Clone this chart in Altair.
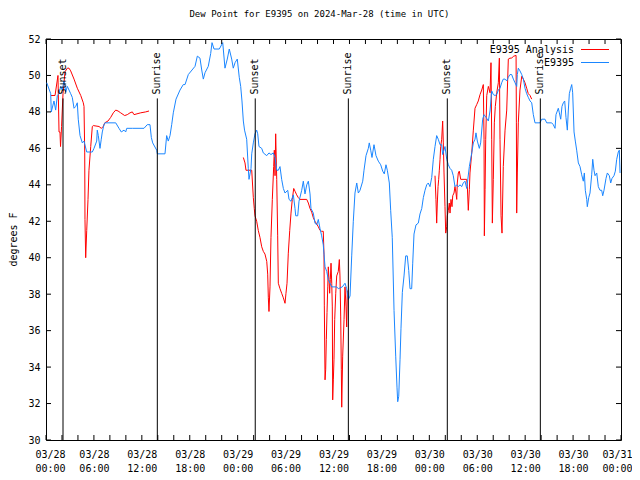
import altair as alt
import pandas as pd

FONT = "DejaVu Sans Mono"
TITLE = "Dew Point for E9395 on 2024-Mar-28 (time in UTC)"

# ---- observed dew point (E9395), hours since 2024-03-28 00:00 UTC ----
blue_h = [0.09, 0.59, 0.66, 1.00, 1.21, 1.42, 1.63, 1.84, 2.04, 2.25, 2.47, 2.67, 2.88, 3.09, 3.29, 3.51,
          3.72, 3.92, 4.04, 4.26, 4.55, 4.76, 5.10, 5.80, 6.01, 6.35, 6.42, 6.55, 6.76, 6.92, 7.05, 7.26,
          7.39, 8.73, 9.14, 9.43, 9.77, 9.98, 10.11, 10.81, 12.27, 12.68, 13.02, 13.19, 13.36, 13.86, 13.94,
          14.90, 15.11, 15.31, 15.53, 15.74, 15.94, 16.28, 16.78, 17.19, 17.41, 17.82, 18.66, 18.95, 19.28,
          19.50, 19.70, 19.91, 20.32, 20.62, 20.79, 21.04, 21.70, 22.13, 22.41, 22.70, 22.95, 23.25, 23.45,
          23.67, 23.95, 24.20, 24.38, 24.54, 24.71, 24.86, 25.13, 25.33, 25.42, 25.67, 25.76, 25.96, 26.17,
          26.38, 26.51, 26.67, 27.01, 27.21, 27.64, 27.92, 28.17, 28.46, 28.68, 28.89, 29.09, 29.30, 29.51,
          29.72, 29.93, 30.27, 30.43, 30.68, 30.97, 31.18, 31.27, 31.52, 31.68, 32.02, 32.22, 32.43, 32.65,
          32.85, 33.06, 33.18, 33.47, 33.68, 33.90, 34.10, 34.31, 34.52, 34.72, 34.94, 35.15, 35.35, 35.56,
          35.78, 36.40, 36.60, 37.10, 37.44, 37.65, 37.85, 38.07, 38.28, 38.48, 38.69, 38.91, 39.11, 39.32,
          39.66, 39.82, 40.07, 40.36, 40.48, 40.66, 40.82, 41.07, 41.32, 41.61, 41.91, 42.16, 42.36, 42.57,
          42.74, 42.99, 43.16, 43.36, 43.58, 43.79, 43.95, 44.04, 44.17, 44.33, 44.45, 44.62, 44.83, 45.04,
          45.24, 45.42, 45.58, 45.79, 45.92, 46.08, 46.33, 46.62, 46.83, 47.05, 47.25, 47.46, 47.67, 47.87,
          48.08, 48.30, 48.50, 48.71, 48.92, 49.12, 49.34, 49.55, 49.67, 49.96, 50.18, 50.38, 50.59, 50.80,
          51.00, 51.21, 51.43, 51.63, 51.84, 52.05, 52.25, 52.47, 52.68, 53.01, 53.31, 53.51, 53.72, 53.84,
          54.01, 54.26, 54.43, 54.68, 54.85, 55.10, 55.39, 55.60, 55.81, 56.01, 56.22, 56.44, 56.64, 56.85,
          57.06, 57.26, 57.48, 57.69, 57.89, 58.10, 58.31, 58.52, 58.73, 58.94, 59.02, 59.14, 59.35, 59.57,
          59.77, 59.98, 60.19, 60.39, 60.61, 60.82, 61.02, 61.23, 61.86, 62.07, 62.48, 62.70, 63.32, 63.52,
          63.74, 63.86, 64.15, 64.28, 64.45, 64.61, 64.78, 64.95, 65.11, 65.28, 65.40, 65.53, 65.70, 65.83,
          65.95, 66.12, 66.28, 66.45, 66.66, 66.87, 67.08, 67.28, 67.41, 67.53, 67.71, 67.78, 67.96, 68.12,
          68.33, 68.46, 68.62, 68.75, 68.96, 69.16, 69.37, 69.58, 69.71, 69.87, 70.12, 70.29, 70.54, 70.71,
          70.87, 71.12, 71.29, 71.46, 71.66, 71.79, 71.88]
blue_v = [49.6, 49.0, 48.0, 48.6, 48.1, 48.9, 49.0, 49.4, 49.2, 49.7, 49.1, 49.4, 49.2, 49.0, 48.8, 48.2,
          48.3, 48.5, 47.6, 46.7, 46.3, 46.4, 45.8, 45.8, 46.0, 46.4, 47.0, 46.7, 46.0, 46.5, 46.9, 47.3,
          47.4, 47.4, 47.1, 46.9, 47.0, 46.9, 47.1, 47.1, 47.1, 47.3, 47.3, 46.6, 46.3, 45.9, 45.7,
          45.7, 46.7, 46.4, 46.7, 47.3, 47.95, 48.7, 49.2, 49.5, 49.5, 50.05, 50.5, 51.06, 50.95,
          50.3, 49.8, 50.15, 50.5, 51.2, 51.8, 51.45, 51.45, 51.8, 50.4, 50.9, 51.45, 50.9, 50.4,
          50.7, 50.9, 49.9, 49.4, 48.6, 47.5, 47.0, 46.5, 44.9, 44.3, 44.9, 45.7, 46.3, 46.8,
          47.0, 46.8, 46.1, 46.0, 45.75, 45.6, 45.75, 45.66, 45.75, 45.5, 44.8, 44.8, 45.0, 44.3,
          43.8, 43.55, 43.7, 43.2, 43.1, 43.45, 42.7, 42.3, 42.3, 43.1, 43.7, 44.2, 43.5, 44.0,
          44.2, 43.5, 42.7, 42.45, 41.9, 41.8, 42.1, 41.6, 41.2, 40.7, 39.5, 39.25, 38.8, 38.6,
          38.4, 38.4, 38.3, 38.4, 38.6, 38.3, 37.7, 37.9, 40.1, 42.0, 43.55, 44.1, 43.55, 43.7,
          44.2, 44.8, 45.6, 46.0, 46.3, 45.9, 45.5, 46.2, 45.6, 45.3, 45.1, 44.75, 44.6, 45.1,
          44.8, 44.1, 42.6, 41.1, 37.1, 34.6, 32.9, 32.1, 32.4, 34.4, 36.1, 38.1, 39.0, 40.1,
          40.1, 39.3, 38.3, 38.3, 39.7, 41.3, 41.8, 41.9, 42.4, 42.7, 43.3, 43.7, 44.0, 44.1,
          43.9, 44.4, 45.4, 46.1, 46.7, 46.5, 46.2, 46.2, 45.66, 46.1, 45.4, 45.1, 44.9, 44.8,
          44.5, 43.9, 44.0, 43.9, 44.0, 43.9, 44.1, 44.2, 43.8, 45.0, 45.75, 46.3, 46.5, 46.85,
          46.4, 46.0, 46.3, 47.6, 47.85, 47.7, 47.5, 48.05, 49.15, 48.95, 48.9, 48.95, 49.2, 49.3,
          49.6, 49.8, 49.8, 49.7, 49.9, 50.05, 50.05, 49.8, 49.6, 49.4, 50.05, 50.4, 50.25, 50.05,
          49.8, 49.3, 49.0, 48.8, 48.6, 48.5, 47.85, 47.4, 47.4, 47.6, 47.6, 47.4, 47.4, 47.3,
          47.1, 47.85, 48.2, 47.95, 47.6, 48.3, 48.5, 48.6, 47.7, 47.0, 48.05, 49.0, 49.3, 49.5,
          49.05, 46.9, 46.4, 45.9, 45.2, 45.0, 44.55, 44.2, 44.65, 43.7, 43.2, 42.8, 43.3, 43.55,
          44.55, 45.4, 44.8, 44.5, 44.65, 43.9, 43.7, 43.7, 43.4, 43.7, 44.35, 44.65, 44.5, 44.1,
          44.35, 44.5, 44.75, 45.4, 45.8, 45.9, 44.65]

# ---- analysis dew point (E9395 Analysis), three separate segments ----
red1_h = [0.63, 1.13, 1.50, 1.63, 1.75, 1.82, 1.95, 2.13, 2.38, 2.67, 2.88, 3.09, 3.51, 3.92, 4.35, 4.67,
          4.76, 4.85, 4.88, 4.97, 5.10, 5.26, 5.38, 5.60, 5.80, 5.92, 6.64, 6.92, 7.18, 7.35, 7.76, 8.10,
          8.43, 8.73, 9.02, 9.35, 9.85, 10.18, 10.52, 10.81, 11.02, 11.86, 12.48, 12.90]
red1_v = [48.9, 48.9, 50.0, 46.9, 46.9, 46.1, 47.2, 49.0, 50.2, 50.4, 50.4, 50.25, 49.8, 49.3, 48.9, 48.5,
          48.3, 45.75, 42.1, 40.0, 41.5, 43.2, 44.8, 46.1, 47.2, 47.25, 47.2, 47.1, 47.2, 47.4, 47.5, 47.7,
          47.95, 48.1, 48.05, 47.95, 47.8, 47.85, 47.95, 48.0, 47.85, 47.95, 48.0, 48.05]
red2_h = [24.71, 24.92, 25.04, 25.76, 25.96, 26.08, 26.17, 26.38, 26.58, 26.80, 27.01, 27.21, 27.42, 27.64,
          27.76, 27.84, 27.92, 28.05, 28.17, 28.34, 28.51, 28.59, 28.68, 28.76, 28.89, 29.01, 29.09, 29.30,
          29.51, 29.72, 29.93, 30.05, 30.18, 30.34, 30.52, 30.68, 30.84, 31.02, 31.18, 31.39, 31.59, 31.81,
          32.65, 32.85, 33.06, 33.27, 33.47, 33.68, 34.10, 34.31, 34.52, 34.72, 34.81, 34.85, 34.94, 35.02,
          35.10, 35.19, 35.28, 35.35, 35.44, 35.52, 35.60, 35.69, 35.78, 35.85, 35.90, 35.98, 36.06, 36.15,
          36.28, 36.40, 36.60, 36.73, 36.81, 36.90, 36.98, 37.03, 37.15, 37.32, 37.44, 37.57, 37.65, 37.73]
red2_v = [45.5, 45.2, 44.8, 44.8, 43.3, 42.7, 42.3, 42.0, 41.5, 41.1, 40.6, 40.35, 40.2, 39.8,
          39.1, 37.8, 37.05, 38.4, 41.1, 43.2, 45.0, 45.9, 44.5, 46.8, 44.3, 41.2, 38.6, 38.3,
          38.05, 37.8, 37.5, 38.05, 38.6, 40.25, 41.5, 42.45, 43.2, 43.8, 43.65, 43.45, 43.3, 43.2,
          43.2, 43.0, 42.7, 42.5, 42.2, 42.0, 41.7, 41.5, 41.45, 41.45, 40.2, 37.4, 33.3, 33.85,
          35.5, 37.0, 38.4, 39.5, 38.8, 38.05, 38.8, 39.7, 38.6, 37.3, 32.2, 33.3, 34.4, 36.6,
          38.05, 39.0, 39.25, 39.9, 39.0, 36.8, 33.85, 31.8, 34.6, 36.6, 38.4, 37.3, 36.2, 38.2]
red3_h = [48.71, 48.83, 48.92, 49.00, 49.09, 49.17, 49.25, 49.34, 49.42, 49.55, 49.67, 49.75, 49.84, 49.96,
          50.05, 50.18, 50.25, 50.38, 50.50, 50.59, 50.71, 50.84, 50.93, 51.09, 51.21, 51.34, 51.43, 51.50,
          51.63, 51.75, 51.93, 52.68, 52.76, 52.88, 53.01, 53.09, 53.31, 53.51, 53.72, 53.93, 54.13, 54.35,
          54.56, 54.76, 54.85, 54.89, 54.98, 55.06, 55.19, 55.39, 55.60, 55.72, 55.81, 55.89, 56.01, 56.14,
          56.26, 56.44, 56.64, 56.77, 56.85, 56.98, 57.10, 57.26, 57.48, 57.69, 57.89, 58.10, 58.31, 58.52,
          58.86, 58.90, 58.94, 59.02, 59.14, 59.35, 59.57, 59.77, 59.98, 60.19, 60.39, 60.61, 60.82]
red3_v = [44.5, 43.2, 41.9, 43.0, 43.9, 44.3, 44.8, 45.4, 46.1, 46.5, 47.5, 46.3, 44.65, 42.8,
          41.35, 41.7, 42.3, 42.6, 43.0, 42.45, 43.2, 42.8, 43.4, 43.55, 43.9, 43.55, 43.2, 44.1,
          44.65, 44.75, 44.3, 44.3, 43.9, 42.6, 43.75, 44.65, 45.75, 47.0, 48.2, 48.4, 48.6, 48.95,
          49.2, 49.5, 46.5, 41.2, 43.75, 46.5, 48.9, 49.4, 49.05, 50.7, 46.5, 41.9, 44.3, 47.4,
          48.3, 49.05, 49.6, 50.95, 46.5, 42.3, 41.35, 45.0, 47.0, 48.1, 50.9, 50.95, 50.95, 51.05,
          51.1, 47.4, 42.45, 44.65, 47.4, 49.2, 49.95, 49.8, 49.6, 49.3, 49.0, 48.9, 48.7]

# ---- sun events ----
sun_names = ["Sunset", "Sunrise", "Sunset", "Sunrise", "Sunset", "Sunrise"]
sun_hours = [2.13, 13.94, 26.20, 37.86, 50.25, 61.90]

# ---- axes ----
x_ticks = list(range(0, 73, 2))
x_label_hours = list(range(0, 73, 6))
x_label_dates = ["03/28", "03/28", "03/28", "03/28", "03/29", "03/29", "03/29", "03/29",
                 "03/30", "03/30", "03/30", "03/30", "03/31"]
x_label_times = ["00:00", "06:00", "12:00", "18:00"] * 3 + ["00:00"]
y_ticks = list(range(30, 53, 2))

series_names = ["E9395 Analysis", "E9395"]
series_colors = ["#ff0000", "#1a86ff"]

W, H = 575, 401
xs = alt.Scale(domain=[0, 72], nice=False, zero=False)
ys = alt.Scale(domain=[30, 52], nice=False, zero=False)

blue_df = pd.DataFrame({"h": blue_h, "v": blue_v})
red_df = pd.concat([
    pd.DataFrame({"h": red1_h, "v": red1_v, "seg": 1}),
    pd.DataFrame({"h": red2_h, "v": red2_v, "seg": 2}),
    pd.DataFrame({"h": red3_h, "v": red3_v, "seg": 3}),
])
sun_df = pd.DataFrame({"h": sun_hours, "name": sun_names, "lo": 30.0, "hi": 48.74, "ty": 48.95})

label_arr = "[" + ",".join("['%s','%s']" % (d, t) for d, t in zip(x_label_dates, x_label_times)) + "]"
x_axis = alt.Axis(values=x_label_hours, labelExpr=label_arr + "[round(datum.value/6)]",
                  ticks=False, tickSize=0, domain=False, grid=False, title=None,
                  labelFont=FONT, labelFontSize=10, labelColor="black", labelPadding=9,
                  labelLineHeight=14, labelOverlap=False, labelFlush=True, labelFlushOffset=11,
                  labelBaseline="top")
y_axis = alt.Axis(values=y_ticks, ticks=False, tickSize=0, domain=False, grid=False,
                  title="degrees F", titleFont=FONT, titleFontSize=10, titleFontWeight="normal",
                  titleColor="black", titleX=-33, titleY=200, titleAngle=270, titleAlign="center",
                  titleBaseline="middle", labelOverlap=False, labelFlush=False,
                  labelFont=FONT, labelFontSize=10, labelColor="black", labelPadding=6)

X = alt.X("h:Q", scale=xs, axis=x_axis)
Y = alt.Y("v:Q", scale=ys, axis=y_axis)

red = alt.Chart(red_df).mark_line(strokeWidth=1, color=series_colors[0], clip=True).encode(
    x=X, y=Y, detail="seg:N",
)
blue = alt.Chart(blue_df).mark_line(strokeWidth=1, color=series_colors[1], clip=True).encode(
    x=X, y=Y,
)
sun_rules = alt.Chart(sun_df).mark_rule(color="black", strokeWidth=1).encode(
    x=X, y=alt.Y("lo:Q", scale=ys, axis=y_axis), y2="hi:Q",
)
sun_text = alt.Chart(sun_df).mark_text(angle=270, align="left", baseline="middle", font=FONT,
                                       fontSize=10, color="black").encode(
    x=X, y=alt.Y("ty:Q", scale=ys, axis=y_axis), text="name:N",
)

xt_df = pd.DataFrame({"h": x_ticks})
yt_df = pd.DataFrame({"v": y_ticks})
TL = 5
tick_layers = [
    alt.Chart(xt_df).mark_rule(color="black").encode(x=X, y=alt.value(H), y2=alt.value(H - TL)),
    alt.Chart(xt_df).mark_rule(color="black").encode(x=X, y=alt.value(0), y2=alt.value(TL)),
    alt.Chart(yt_df).mark_rule(color="black").encode(y=Y, x=alt.value(0), x2=alt.value(TL)),
    alt.Chart(yt_df).mark_rule(color="black").encode(y=Y, x=alt.value(W - TL), x2=alt.value(W)),
]

leg_df = pd.DataFrame({"name": series_names, "color": series_colors})
leg_layers = []
for i, (nm, col) in enumerate(zip(series_names, series_colors)):
    yy = 10.5 + 13 * i
    d = leg_df.iloc[[i]]
    leg_layers.append(alt.Chart(d).mark_text(align="right", baseline="middle", font=FONT, fontSize=10,
                                             color="black").encode(
        x=alt.value(528), y=alt.value(yy), text="name:N"))
    leg_layers.append(alt.Chart(d).mark_rule(color=col, strokeWidth=1).encode(
        x=alt.value(535), x2=alt.value(563), y=alt.value(yy)))

chart = alt.layer(red, blue, sun_rules, sun_text, *tick_layers, *leg_layers).properties(
    width=W, height=H,
    title=alt.TitleParams(TITLE, font=FONT, fontSize=9, fontWeight="normal", color="black",
                          anchor="middle", dx=-14, offset=15),
    autosize=alt.AutoSizeParams(type="none"),
    padding={"left": 38, "top": 31, "right": 11, "bottom": 32},
    background="white",
).configure_view(stroke="black", strokeWidth=1)

chart.save("out.html", embed_options={"renderer": "svg", "actions": False})
